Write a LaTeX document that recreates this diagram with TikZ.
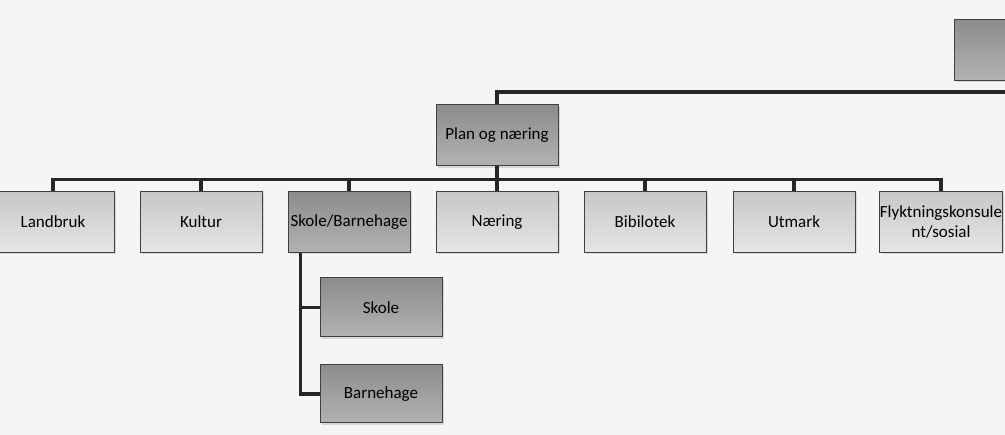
\documentclass[tikz,border=0pt]{standalone}
\usepackage{fontspec}
\setmainfont{Carlito}
\usetikzlibrary{positioning,shadows}

\begin{document}
\begin{tikzpicture}[x=1pt,y=-1pt]
\tikzstyle{unit}=[rectangle, draw=black!75, line width=1pt,
	minimum width=122pt, minimum height=61pt, inner sep=0pt,
	top color=black!22, bottom color=black!10, align=center,
	font=\fontsize{17}{20}\selectfont,
	drop shadow={opacity=0.25,shadow xshift=2pt,shadow yshift=-2pt},
]
\tikzstyle{head}=[unit, top color=black!45, bottom color=black!30]
\tikzstyle{link}=[line width=3.2pt, black!85]
\fill[black!4] (0,0) rectangle (1005,435);
\useasboundingbox (0,0) rectangle (1005,435);
\clip (0,0) rectangle (1005,435);
\node[head] (top) at (1015,50) {};
\node[head] (plan) at (497,135.5) {Plan og næring};
\node[unit] (landbruk) at (53,222) {Landbruk};
\node[unit] (kultur) at (201,222) {Kultur};
\node[head] (skobar) at (349,222) {Skole/Barnehage};
\node[unit] (naering) at (497,222) {Næring};
\node[unit] (bibl) at (645,222) {Bibilotek};
\node[unit] (utmark) at (794,222) {Utmark};
\node[unit] (flykt) at (941,222) {Flyktningskonsule\\nt/sosial};
\node[head, minimum height=59pt] (skole) at (381,307.5) {Skole};
\node[head, minimum height=58pt] (barnehage) at (381,394) {Barnehage};
\coordinate (east) at (1010,92);
\draw[link] (plan.north) |- (east);
\draw[link] (plan.south) -- ++(0,13) coordinate (bus);
\foreach \c in {landbruk,kultur,skobar,naering,bibl,utmark,flykt}
	\draw[link] (bus) -| (\c.north);
\draw[link] ([xshift=13pt]skobar.south west) |- (skole.west);
\draw[link] ([xshift=13pt]skobar.south west) |- (barnehage.west);

\end{tikzpicture}
\end{document}
